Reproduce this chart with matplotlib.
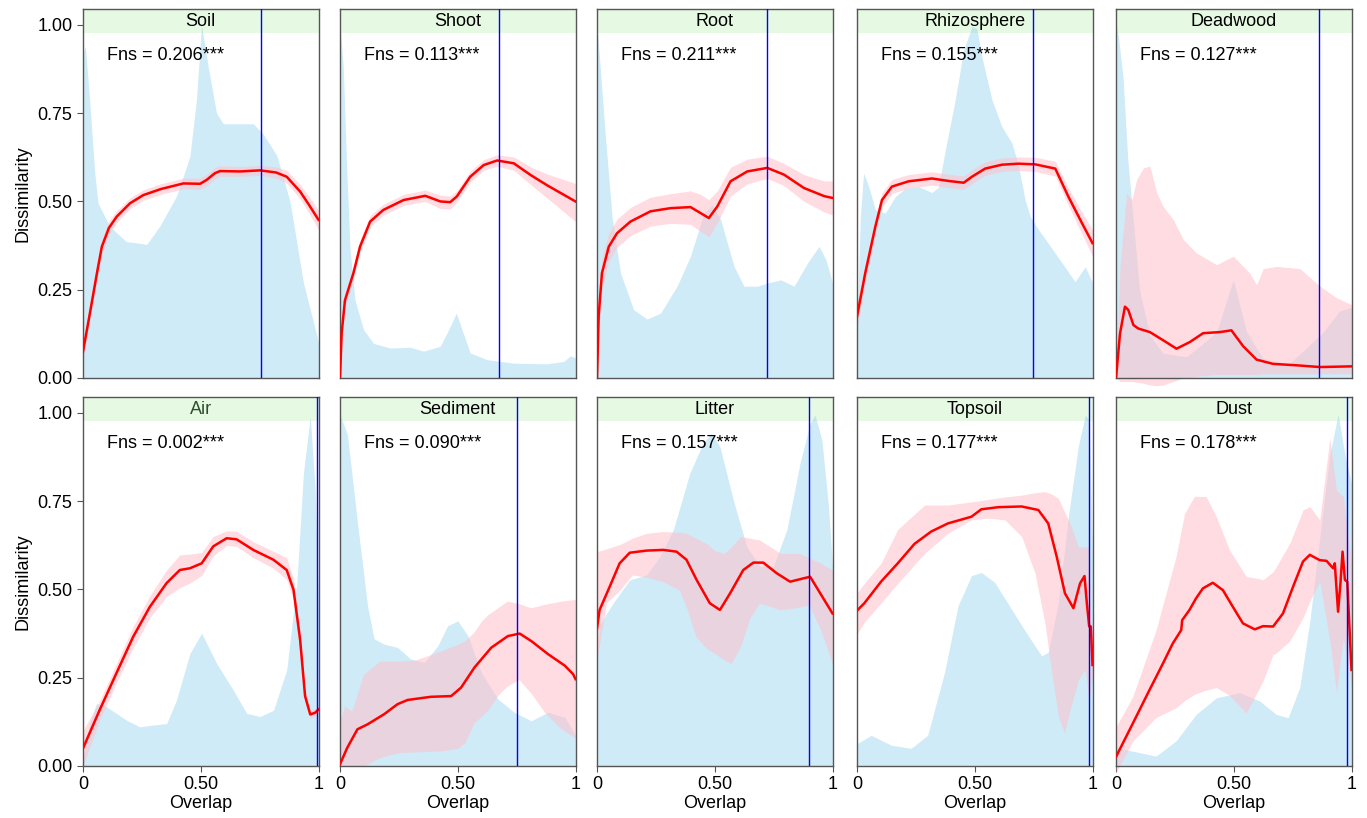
import matplotlib
matplotlib.use("Agg")
import matplotlib.pyplot as plt

plt.rcParams['font.family'] = ['Liberation Sans', 'DejaVu Sans']

# ---- data ----
names = ["Soil", "Shoot", "Root", "Rhizosphere", "Deadwood",
         "Air", "Sediment", "Litter", "Topsoil", "Dust"]
fns = ["0.206", "0.113", "0.211", "0.155", "0.127",
       "0.002", "0.090", "0.157", "0.177", "0.178"]
vline_x = [0.754, 0.677, 0.722, 0.749, 0.86, 0.995, 0.753, 0.90, 0.987, 0.983]

# Soil
soil_x = [0, 0.03, 0.06, 0.08, 0.11, 0.143, 0.2, 0.256, 0.33, 0.426, 0.497, 0.525, 0.56, 0.582, 0.667, 0.752, 0.82, 0.865, 0.922, 0.96, 1.0]
soil_y = [0.075, 0.186, 0.30, 0.372, 0.425, 0.457, 0.495, 0.518, 0.535, 0.551, 0.55, 0.561, 0.58, 0.586, 0.585, 0.588, 0.582, 0.570, 0.528, 0.49, 0.448]
soil_lo = [0.055, 0.165, 0.28, 0.352, 0.405, 0.44, 0.48, 0.503, 0.52, 0.536, 0.534, 0.545, 0.564, 0.571, 0.571, 0.574, 0.566, 0.552, 0.508, 0.466, 0.42]
soil_hi = [0.095, 0.21, 0.32, 0.392, 0.445, 0.474, 0.51, 0.533, 0.55, 0.566, 0.566, 0.577, 0.596, 0.601, 0.599, 0.602, 0.598, 0.588, 0.548, 0.514, 0.476]
soil_dx = [0, 0.01, 0.028, 0.05, 0.064, 0.113, 0.184, 0.227, 0.27, 0.326, 0.397, 0.454, 0.482, 0.503, 0.532, 0.567, 0.596, 0.723, 0.766, 0.823, 0.879, 0.936, 0.993, 1.0]
soil_dy = [0.92, 0.94, 0.79, 0.58, 0.495, 0.43, 0.386, 0.383, 0.378, 0.43, 0.515, 0.628, 0.79, 1.0, 0.88, 0.75, 0.72, 0.72, 0.69, 0.63, 0.5, 0.27, 0.12, 0.1]

# Shoot
shoot_x = [0, 0.007, 0.021, 0.057, 0.085, 0.128, 0.184, 0.27, 0.362, 0.426, 0.468, 0.496, 0.553, 0.61, 0.667, 0.738, 0.809, 0.879, 1.0]
shoot_y = [0.0, 0.127, 0.22, 0.297, 0.372, 0.443, 0.476, 0.504, 0.516, 0.5, 0.498, 0.514, 0.57, 0.603, 0.616, 0.608, 0.575, 0.546, 0.5]
shoot_lo = [0.0, 0.1, 0.2, 0.28, 0.355, 0.427, 0.461, 0.489, 0.5, 0.48, 0.478, 0.498, 0.555, 0.588, 0.6, 0.588, 0.548, 0.51, 0.443]
shoot_hi = [0.0, 0.15, 0.24, 0.315, 0.39, 0.46, 0.492, 0.52, 0.532, 0.518, 0.515, 0.53, 0.586, 0.618, 0.632, 0.626, 0.598, 0.578, 0.551]
shoot_dx = [0, 0.014, 0.028, 0.043, 0.064, 0.1, 0.142, 0.213, 0.298, 0.355, 0.426, 0.468, 0.494, 0.518, 0.553, 0.624, 0.738, 0.879, 0.95, 0.979, 1.0]
shoot_dy = [1.0, 0.88, 0.6, 0.36, 0.22, 0.137, 0.098, 0.085, 0.087, 0.076, 0.09, 0.146, 0.184, 0.137, 0.071, 0.052, 0.042, 0.04, 0.047, 0.063, 0.057]

# Root
root_x = [0, 0.007, 0.021, 0.05, 0.085, 0.142, 0.227, 0.312, 0.397, 0.44, 0.475, 0.511, 0.567, 0.638, 0.723, 0.794, 0.879, 0.965, 1.0]
root_y = [0.0, 0.175, 0.297, 0.372, 0.41, 0.443, 0.472, 0.481, 0.484, 0.467, 0.453, 0.486, 0.557, 0.585, 0.595, 0.576, 0.538, 0.515, 0.51]
root_lo = [0.0, 0.13, 0.25, 0.33, 0.37, 0.403, 0.43, 0.438, 0.435, 0.415, 0.4, 0.44, 0.515, 0.55, 0.565, 0.545, 0.5, 0.47, 0.462]
root_hi = [0.0, 0.22, 0.34, 0.41, 0.45, 0.483, 0.512, 0.522, 0.53, 0.52, 0.505, 0.53, 0.597, 0.62, 0.628, 0.608, 0.576, 0.558, 0.558]
root_dx = [0, 0.035, 0.064, 0.1, 0.156, 0.213, 0.27, 0.34, 0.397, 0.454, 0.489, 0.525, 0.582, 0.624, 0.681, 0.723, 0.78, 0.837, 0.894, 0.943, 0.972, 1.0]
root_dy = [1.0, 0.69, 0.456, 0.297, 0.193, 0.167, 0.184, 0.26, 0.345, 0.467, 0.49, 0.449, 0.316, 0.26, 0.26, 0.269, 0.278, 0.26, 0.326, 0.373, 0.335, 0.269]

# Rhizosphere
rhizo_x = [0, 0.035, 0.078, 0.106, 0.148, 0.219, 0.318, 0.389, 0.453, 0.488, 0.544, 0.615, 0.686, 0.757, 0.842, 0.898, 0.955, 1.0]
rhizo_y = [0.174, 0.297, 0.429, 0.504, 0.542, 0.557, 0.565, 0.558, 0.553, 0.57, 0.593, 0.604, 0.607, 0.605, 0.593, 0.513, 0.439, 0.382]
rhizo_lo = [0.14, 0.27, 0.405, 0.483, 0.522, 0.538, 0.546, 0.539, 0.534, 0.55, 0.574, 0.585, 0.588, 0.585, 0.572, 0.488, 0.408, 0.345]
rhizo_hi = [0.21, 0.325, 0.453, 0.525, 0.562, 0.576, 0.584, 0.577, 0.572, 0.59, 0.612, 0.623, 0.626, 0.625, 0.614, 0.538, 0.47, 0.42]
rhizo_dx = [0, 0.014, 0.028, 0.05, 0.078, 0.12, 0.163, 0.205, 0.262, 0.318, 0.346, 0.375, 0.417, 0.453, 0.488, 0.509, 0.53, 0.573, 0.615, 0.658, 0.686, 0.714, 0.736, 0.771, 0.842, 0.926, 0.969, 1.0]
rhizo_dy = [0.136, 0.456, 0.58, 0.542, 0.476, 0.467, 0.514, 0.537, 0.542, 0.525, 0.54, 0.646, 0.788, 0.929, 0.995, 0.99, 0.91, 0.788, 0.712, 0.665, 0.6, 0.504, 0.457, 0.42, 0.353, 0.273, 0.315, 0.27]

# Deadwood
dead_x = [0, 0.017, 0.038, 0.052, 0.074, 0.095, 0.144, 0.2, 0.257, 0.314, 0.37, 0.441, 0.49, 0.54, 0.597, 0.667, 0.766, 0.866, 1.0]
dead_y = [0.0, 0.126, 0.202, 0.193, 0.15, 0.14, 0.13, 0.107, 0.083, 0.102, 0.127, 0.13, 0.135, 0.09, 0.052, 0.04, 0.036, 0.031, 0.033]
dead_bx = [0, 0.017, 0.045, 0.067, 0.088, 0.116, 0.144, 0.173, 0.2, 0.243, 0.286, 0.342, 0.427, 0.498, 0.568, 0.597, 0.625, 0.682, 0.781, 0.866, 0.937, 1.0]
dead_lo = [0.0, -0.01, -0.01, -0.01, -0.012, -0.015, -0.02, -0.022, -0.02, -0.01, 0.0, 0.005, 0.01, 0.01, 0.01, 0.01, 0.012, 0.012, 0.012, 0.012, 0.012, 0.012]
dead_hi = [0.0, 0.316, 0.524, 0.505, 0.562, 0.595, 0.6, 0.524, 0.486, 0.449, 0.392, 0.354, 0.321, 0.345, 0.297, 0.264, 0.31, 0.316, 0.31, 0.26, 0.227, 0.208]
dead_dx = [0, 0.01, 0.03, 0.05, 0.066, 0.1, 0.144, 0.2, 0.3, 0.427, 0.498, 0.555, 0.625, 0.736, 0.88, 0.95, 1.0]
dead_dy = [1.0, 0.97, 0.85, 0.62, 0.5, 0.25, 0.12, 0.07, 0.06, 0.13, 0.278, 0.13, 0.055, 0.04, 0.13, 0.19, 0.2]

# Air
air_x = [0, 0.071, 0.142, 0.213, 0.284, 0.355, 0.411, 0.454, 0.504, 0.553, 0.61, 0.652, 0.723, 0.809, 0.865, 0.894, 0.922, 0.943, 0.965, 0.986, 1.0]
air_y = [0.05, 0.159, 0.263, 0.366, 0.451, 0.518, 0.555, 0.56, 0.574, 0.622, 0.645, 0.642, 0.612, 0.584, 0.555, 0.499, 0.357, 0.198, 0.146, 0.151, 0.16]
air_lo = [0.0, 0.13, 0.235, 0.335, 0.42, 0.48, 0.505, 0.518, 0.54, 0.595, 0.625, 0.622, 0.59, 0.56, 0.528, 0.47, 0.33, 0.18, 0.135, 0.14, 0.15]
air_hi = [0.1, 0.185, 0.29, 0.395, 0.482, 0.555, 0.598, 0.6, 0.605, 0.65, 0.666, 0.665, 0.635, 0.608, 0.59, 0.53, 0.385, 0.215, 0.158, 0.162, 0.17]
air_dx = [0, 0.028, 0.057, 0.1, 0.184, 0.241, 0.298, 0.355, 0.397, 0.454, 0.504, 0.567, 0.638, 0.695, 0.752, 0.809, 0.865, 0.908, 0.936, 0.965, 0.986, 1.0]
air_dy = [0.02, 0.12, 0.177, 0.168, 0.13, 0.111, 0.116, 0.12, 0.187, 0.319, 0.376, 0.291, 0.215, 0.149, 0.14, 0.158, 0.272, 0.517, 0.83, 0.99, 0.78, 0.45]

# Sediment
sed_x = [0, 0.031, 0.074, 0.117, 0.188, 0.244, 0.287, 0.386, 0.472, 0.514, 0.571, 0.642, 0.713, 0.763, 0.812, 0.883, 0.955, 0.99, 1.0]
sed_y = [0.005, 0.052, 0.104, 0.118, 0.147, 0.175, 0.187, 0.196, 0.198, 0.222, 0.279, 0.335, 0.368, 0.375, 0.354, 0.317, 0.284, 0.26, 0.246]
sed_bx = [0, 0.02, 0.05, 0.1, 0.17, 0.25, 0.32, 0.43, 0.5, 0.53, 0.57, 0.6, 0.63, 0.67, 0.71, 0.76, 0.81, 0.87, 0.94, 1.0]
sed_hi = [0.127, 0.17, 0.155, 0.26, 0.297, 0.297, 0.3, 0.326, 0.345, 0.354, 0.38, 0.41, 0.43, 0.448, 0.467, 0.46, 0.448, 0.458, 0.467, 0.472]
sed_lo = [0.0, 0.0, 0.0, 0.0, 0.024, 0.038, 0.04, 0.043, 0.05, 0.066, 0.123, 0.14, 0.16, 0.2, 0.226, 0.245, 0.207, 0.151, 0.104, 0.08]
sed_dx = [0, 0.031, 0.074, 0.117, 0.145, 0.188, 0.244, 0.3, 0.358, 0.415, 0.457, 0.5, 0.543, 0.6, 0.67, 0.74, 0.812, 0.883, 0.955, 1.0]
sed_dy = [0.995, 0.94, 0.69, 0.453, 0.36, 0.345, 0.336, 0.303, 0.293, 0.34, 0.397, 0.411, 0.369, 0.265, 0.19, 0.152, 0.128, 0.152, 0.138, 0.087]

# Litter
lit_x = [0, 0.011, 0.054, 0.096, 0.139, 0.21, 0.281, 0.338, 0.38, 0.423, 0.479, 0.522, 0.565, 0.621, 0.664, 0.706, 0.763, 0.82, 0.862, 0.905, 0.948, 1.0]
lit_y = [0.39, 0.442, 0.508, 0.574, 0.604, 0.61, 0.612, 0.607, 0.584, 0.527, 0.461, 0.442, 0.489, 0.555, 0.576, 0.576, 0.546, 0.522, 0.529, 0.536, 0.489, 0.432]
lit_bx = [0, 0.04, 0.1, 0.15, 0.21, 0.28, 0.35, 0.38, 0.42, 0.47, 0.5, 0.54, 0.57, 0.61, 0.65, 0.69, 0.78, 0.86, 0.9, 0.95, 1.0]
lit_hi = [0.607, 0.615, 0.628, 0.645, 0.659, 0.664, 0.662, 0.659, 0.645, 0.628, 0.61, 0.602, 0.62, 0.65, 0.645, 0.64, 0.602, 0.602, 0.59, 0.574, 0.555]
lit_lo = [0.301, 0.461, 0.5, 0.541, 0.535, 0.522, 0.498, 0.45, 0.366, 0.33, 0.319, 0.3, 0.29, 0.34, 0.42, 0.461, 0.442, 0.45, 0.456, 0.385, 0.29]
lit_dx = [0, 0.011, 0.068, 0.139, 0.21, 0.267, 0.324, 0.394, 0.45, 0.486, 0.522, 0.579, 0.636, 0.692, 0.749, 0.806, 0.862, 0.905, 0.926, 0.955, 0.983, 1.0]
lit_dy = [0.29, 0.4, 0.461, 0.527, 0.541, 0.593, 0.669, 0.829, 0.914, 0.942, 0.904, 0.753, 0.621, 0.565, 0.565, 0.669, 0.857, 0.971, 0.994, 0.923, 0.735, 0.565]

# Topsoil
top_x = [0, 0.031, 0.102, 0.173, 0.244, 0.315, 0.386, 0.486, 0.528, 0.6, 0.699, 0.77, 0.812, 0.848, 0.883, 0.919, 0.947, 0.966, 0.976, 0.986, 0.993, 1.0]
top_y = [0.44, 0.461, 0.522, 0.574, 0.629, 0.664, 0.687, 0.706, 0.727, 0.733, 0.735, 0.725, 0.687, 0.593, 0.489, 0.447, 0.517, 0.538, 0.461, 0.395, 0.395, 0.286]
top_bx = [0, 0.031, 0.102, 0.173, 0.287, 0.386, 0.486, 0.557, 0.628, 0.699, 0.756, 0.798, 0.827, 0.855, 0.881, 0.905, 0.94, 0.969, 0.986, 1.0]
top_hi = [0.49, 0.517, 0.574, 0.67, 0.739, 0.739, 0.748, 0.755, 0.762, 0.767, 0.774, 0.777, 0.77, 0.758, 0.72, 0.687, 0.621, 0.621, 0.621, 0.31]
top_lo = [0.374, 0.407, 0.461, 0.517, 0.602, 0.659, 0.697, 0.702, 0.697, 0.65, 0.546, 0.404, 0.263, 0.141, 0.094, 0.16, 0.245, 0.273, 0.18, 0.26]
top_dx = [0, 0.06, 0.145, 0.23, 0.3, 0.372, 0.429, 0.486, 0.528, 0.585, 0.656, 0.727, 0.784, 0.812, 0.855, 0.898, 0.94, 0.969, 0.986, 1.0]
top_dy = [0.063, 0.087, 0.059, 0.05, 0.087, 0.266, 0.454, 0.539, 0.548, 0.52, 0.444, 0.369, 0.312, 0.322, 0.463, 0.708, 0.906, 0.994, 0.98, 0.6]

# Dust
dust_x = [0, 0.071, 0.142, 0.199, 0.241, 0.277, 0.281, 0.312, 0.34, 0.369, 0.411, 0.454, 0.496, 0.539, 0.589, 0.624, 0.667, 0.709, 0.752, 0.794, 0.823, 0.865, 0.894, 0.922, 0.929, 0.943, 0.953, 0.962, 0.972, 0.982, 1.0]
dust_y = [0.026, 0.12, 0.215, 0.29, 0.347, 0.385, 0.413, 0.442, 0.475, 0.503, 0.519, 0.498, 0.451, 0.404, 0.387, 0.396, 0.395, 0.432, 0.508, 0.579, 0.598, 0.583, 0.581, 0.56, 0.574, 0.437, 0.517, 0.607, 0.527, 0.522, 0.272]
dust_bx = [0, 0.071, 0.17, 0.255, 0.291, 0.333, 0.383, 0.426, 0.482, 0.553, 0.61, 0.624, 0.667, 0.681, 0.738, 0.794, 0.823, 0.865, 0.908, 0.936, 0.965, 1.0]
dust_hi = [0.111, 0.196, 0.385, 0.593, 0.715, 0.764, 0.763, 0.706, 0.612, 0.537, 0.53, 0.527, 0.55, 0.565, 0.631, 0.725, 0.735, 0.697, 0.928, 0.781, 0.763, 0.574]
dust_lo = [-0.02, 0.07, 0.137, 0.165, 0.185, 0.203, 0.215, 0.222, 0.2, 0.15, 0.222, 0.24, 0.316, 0.32, 0.354, 0.42, 0.467, 0.523, 0.354, 0.208, 0.363, 0.222]
dust_dx = [0, 0.071, 0.17, 0.255, 0.34, 0.426, 0.525, 0.61, 0.681, 0.731, 0.78, 0.823, 0.865, 0.908, 0.943, 0.972, 1.0]
dust_dy = [0.052, 0.042, 0.028, 0.071, 0.146, 0.193, 0.208, 0.184, 0.146, 0.137, 0.222, 0.41, 0.646, 0.882, 0.996, 0.882, 0.8]

panels = [
    (soil_dx, soil_dy, soil_x, soil_lo, soil_hi, soil_x, soil_y),
    (shoot_dx, shoot_dy, shoot_x, shoot_lo, shoot_hi, shoot_x, shoot_y),
    (root_dx, root_dy, root_x, root_lo, root_hi, root_x, root_y),
    (rhizo_dx, rhizo_dy, rhizo_x, rhizo_lo, rhizo_hi, rhizo_x, rhizo_y),
    (dead_dx, dead_dy, dead_bx, dead_lo, dead_hi, dead_x, dead_y),
    (air_dx, air_dy, air_x, air_lo, air_hi, air_x, air_y),
    (sed_dx, sed_dy, sed_bx, sed_lo, sed_hi, sed_x, sed_y),
    (lit_dx, lit_dy, lit_bx, lit_lo, lit_hi, lit_x, lit_y),
    (top_dx, top_dy, top_bx, top_lo, top_hi, top_x, top_y),
    (dust_dx, dust_dy, dust_bx, dust_lo, dust_hi, dust_x, dust_y),
]

W, H = 1367, 818
fig = plt.figure(figsize=(W / 100, H / 100), dpi=100)

col_left = [83, 340, 597, 857, 1116]
row_top = [9, 397]
ax_w, ax_h = 235.5, 369
YMAX = 1.045

for i, (dx, dy, bx, lo, hi, lx, ly) in enumerate(panels):
    r, c = divmod(i, 5)
    ax = fig.add_axes([col_left[c] / W, 1 - (row_top[r] + ax_h) / H, ax_w / W, ax_h / H])
    ax.set_xlim(0, 1)
    ax.set_ylim(0, YMAX)

    # strip header
    ax.axhspan(0.977, YMAX, color='#e6f9e3', zorder=0, lw=0)
    ax.fill_between(dx, 0, dy, color='skyblue', alpha=0.4, lw=0, zorder=1)
    ax.fill_between(bx, lo, hi, color='pink', alpha=0.55, lw=0, zorder=2, clip_on=False)
    ax.plot(lx, ly, color='red', lw=1.8, zorder=3)
    ax.axvline(vline_x[i], color='blue', lw=1, zorder=4)

    tcol = '#2f4f2f' if names[i] == "Air" else 'black'
    ax.text(0.5, 1.011, names[i], ha='center', va='center', fontsize=13, color=tcol, zorder=5)
    ax.text(0.1, 0.912, "Fns = " + fns[i] + "***", ha='left', va='center', fontsize=13, zorder=5)

    for s in ax.spines.values():
        s.set_color('#555555')
        s.set_linewidth(1)

    ax.tick_params(colors='#555555', labelcolor='black', labelsize=13, length=4)
    if r == 1:
        ax.set_xticks([0, 0.5, 1])
        ax.set_xticklabels(['0', '0.50', '1'])
        ax.set_xlabel("Overlap", fontsize=13, labelpad=1)
    else:
        ax.set_xticks([])
    if c == 0:
        ax.set_yticks([0, 0.25, 0.5, 0.75, 1.0])
        ax.set_yticklabels(['0.00', '0.25', '0.50', '0.75', '1.00'])
        ax.set_ylabel("Dissimilarity", fontsize=13)
    else:
        ax.set_yticks([])

fig.savefig("out.png", dpi=100)
